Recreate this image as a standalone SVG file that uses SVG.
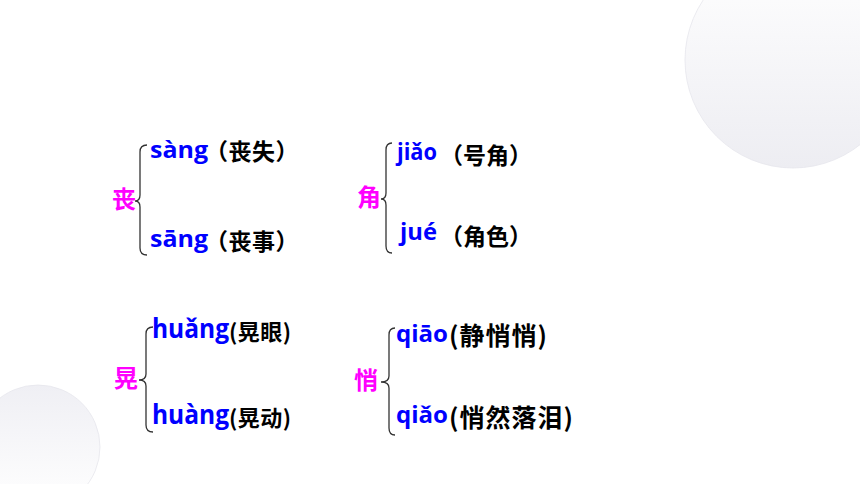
<svg xmlns="http://www.w3.org/2000/svg" width="860" height="484" viewBox="0 0 860 484">
<defs>
<linearGradient id="gTop" x1="0" y1="0" x2="0" y2="1">
<stop offset="0" stop-color="#ffffff"/>
<stop offset="1" stop-color="#ededf2"/>
</linearGradient>
<linearGradient id="gBot" x1="0" y1="0" x2="0" y2="1">
<stop offset="0" stop-color="#efeff4"/>
<stop offset="1" stop-color="#ffffff"/>
</linearGradient>
<style>
.hz{font-family:"Noto Sans CJK SC","Microsoft YaHei",sans-serif;font-weight:700;fill:#ff00ff;font-size:24px}
.py{font-family:"Open Sans","Noto Sans",sans-serif;font-weight:700;fill:#0000ff}
.cn{font-family:"Noto Sans CJK SC",sans-serif;font-weight:700;fill:#000000}
.br{fill:none;stroke:#333333;stroke-width:1.3}
</style>
</defs>
<rect width="860" height="484" fill="#ffffff"/>
<circle cx="793" cy="60" r="108" fill="url(#gTop)" stroke="#e6e6ec" stroke-width="0.8"/>
<circle cx="38" cy="447" r="62" fill="url(#gBot)" stroke="#e6e6ec" stroke-width="0.8"/>

<g id="connectors">
<path class="br" d="M147,145 Q140,145 140,152 L140,195 Q140,201 135,201 Q140,201 140,207 L140,248 Q140,255 147,255"/>
<path class="br" d="M392,143 Q386,143 386,150 L386,193 Q386,199 381,199 Q386,199 386,205 L386,246 Q386,253 392,253"/>
<path class="br" d="M153,327 Q146,327 146,334 L146,374 Q146,380 139,380 Q146,380 146,386 L146,425 Q146,432 153,432"/>
<path class="br" d="M395,328 Q389,328 389,335 L389,376 Q389,382 381,382 Q389,382 389,388 L389,428 Q389,435 395,435"/>
</g>

<g id="node-sang">
<text class="hz" x="112" y="208">丧</text>
<text class="py" x="150" y="158" font-size="24" textLength="58" lengthAdjust="spacingAndGlyphs">sàng</text>
<text class="cn" x="205" y="160" font-size="23" letter-spacing="0.5">（丧失）</text>
<text class="py" x="150" y="247" font-size="24" textLength="58" lengthAdjust="spacingAndGlyphs">sāng</text>
<text class="cn" x="205" y="250" font-size="23" letter-spacing="0.5">（丧事）</text>
</g>

<g id="node-jiao">
<text class="hz" x="357" y="206">角</text>
<text class="py" x="397" y="160" font-size="23" textLength="40" lengthAdjust="spacingAndGlyphs">jiǎo</text>
<text class="cn" x="440" y="164" font-size="23">（号角）</text>
<text class="py" x="400" y="240" font-size="23" textLength="37" lengthAdjust="spacingAndGlyphs">jué</text>
<text class="cn" x="440" y="245" font-size="23">（角色）</text>
</g>

<g id="node-huang">
<text class="hz" x="114" y="387">晃</text>
<text class="py" x="152" y="338" font-size="26" textLength="77" lengthAdjust="spacingAndGlyphs">huǎng</text>
<text class="cn" x="229" y="340" font-size="22" letter-spacing="0.5">(晃眼)</text>
<text class="py" x="152" y="424" font-size="26" textLength="77" lengthAdjust="spacingAndGlyphs">huàng</text>
<text class="cn" x="229" y="426" font-size="22" letter-spacing="0.5">(晃动)</text>
</g>

<g id="node-qiao">
<text class="hz" x="354" y="389">悄</text>
<text class="py" x="396" y="342" font-size="24" textLength="52" lengthAdjust="spacingAndGlyphs">qiāo</text>
<text class="cn" x="449" y="345" font-size="25" letter-spacing="1">(静悄悄)</text>
<text class="py" x="396" y="423" font-size="24" textLength="52" lengthAdjust="spacingAndGlyphs">qiǎo</text>
<text class="cn" x="449" y="427" font-size="25" letter-spacing="1">(悄然落泪)</text>
</g>
</svg>
